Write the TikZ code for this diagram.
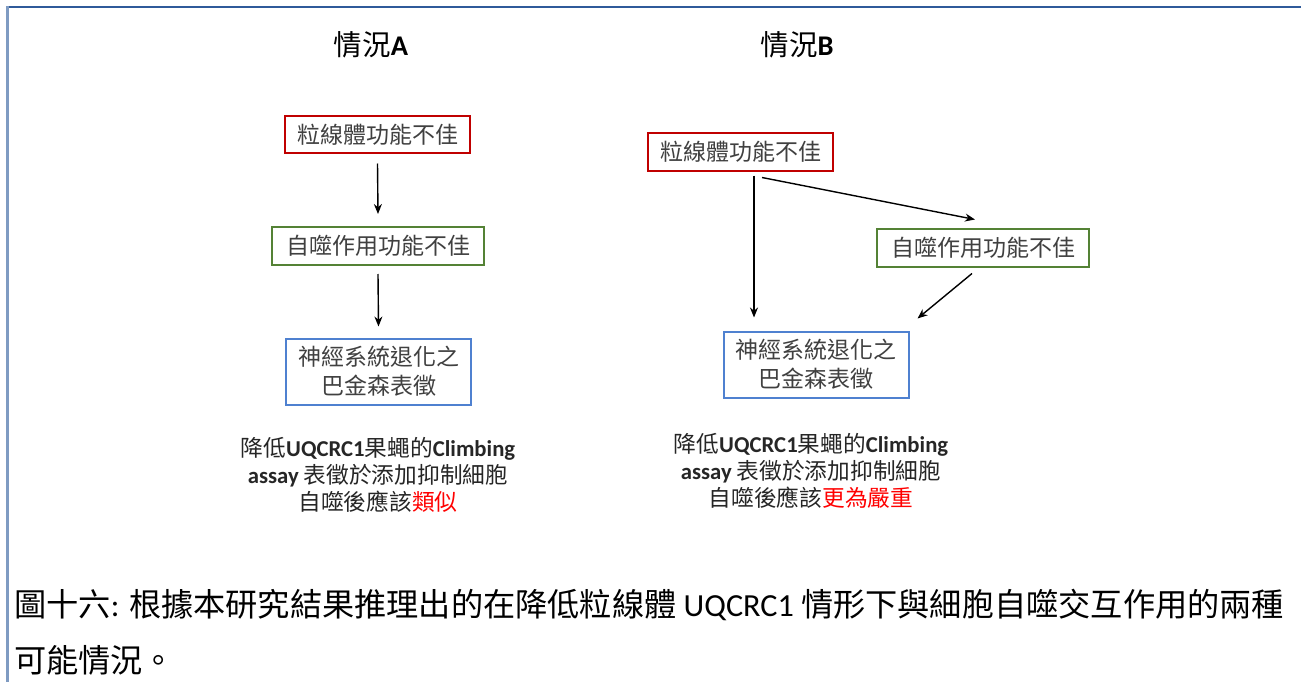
\documentclass[tikz,border=0pt]{standalone}
\usepackage{fontspec}
\setmainfont{Noto Sans CJK TC}
\newfontfamily\lat{Carlito}
\usetikzlibrary{arrows.meta}
\definecolor{bred}{HTML}{C00000}
\definecolor{bgreen}{HTML}{548235}
\definecolor{bblue}{HTML}{4F81D0}
\definecolor{frametop}{HTML}{2F5A9A}
\definecolor{frameleft}{HTML}{7F9BC2}
\definecolor{boxtext}{HTML}{404040}
\definecolor{hired}{HTML}{FF0000}
\tikzset{
  box/.style={draw, line width=2pt, inner sep=0pt, text=boxtext, align=center,
    font=\fontsize{23}{29}\selectfont},
  redbox/.style={box, draw=bred, minimum width=185pt, minimum height=37pt},
  greenbox/.style={box, draw=bgreen, minimum width=212pt, minimum height=38pt},
  bluebox/.style={box, draw=bblue, minimum width=185pt, minimum height=66pt},
  arr/.style={line width=1.4pt, -{Stealth[length=10pt,width=8pt]}},
  title/.style={font=\fontsize{28.5}{30}\selectfont, inner sep=0pt},
  note/.style={align=center, inner sep=0pt, text=black!85,
    font=\fontsize{22.7}{27}\selectfont},
  captext/.style={anchor=west, inner sep=0pt, font=\fontsize{32.2}{34}\selectfont}
}
\begin{document}
\begin{tikzpicture}[x=1pt,y=-1pt]
\useasboundingbox (0,0) rectangle (1301,682);
\fill[white] (0,0) rectangle (1301,682);
% frame
\draw[frametop, line width=2pt] (6,7) coordinate (ftl) -- (1301,7) coordinate (ftr);
\draw[frameleft, line width=3pt] (7,6) coordinate (flt) -- (7,682) coordinate (flb);

% titles
\node[title] (ta) at (371,45) {情況{\lat\bfseries A}};
\node[title] (tb) at (797,45) {情況{\lat\bfseries B}};

% case A
\node[redbox] (a1) at (377.5,135) {粒線體功能不佳};
\node[greenbox] (a2) at (378,246) {自噬作用功能不佳};
\node[bluebox] (a3) at (378.5,371.5) {神經系統退化之\\巴金森表徵};
\draw[arr] ([yshift=-9pt]a1.south) -- ([yshift=12pt]a2.north);
\draw[arr] ([yshift=-8pt]a2.south) -- ([yshift=11pt]a3.north);

% case B
\node[redbox] (b1) at (740.5,152) {粒線體功能不佳};
\node[greenbox] (b2) at (983,247.5) {自噬作用功能不佳};
\node[bluebox] (b3) at (816,364.5) {神經系統退化之\\巴金森表徵};
\draw[arr] ([xshift=13.5pt,yshift=-4pt]b1.south) -- ([xshift=-62pt,yshift=13pt]b3.north);
\draw[arr] ([xshift=21.5pt,yshift=-6pt]b1.south) -- ([xshift=-8pt,yshift=8pt]b2.north);
\draw[arr] ([xshift=-11pt,yshift=-6pt]b2.south) -- ([xshift=8pt,yshift=12pt]b3.north east);

% notes
\node[note] (na) at (378,475) {降低{\lat\bfseries UQCRC1}果蠅的{\lat\bfseries Climbing}\\{\lat\bfseries assay} 表徵於添加抑制細胞\\自噬後應該{\color{hired}類似}};
\node[note] (nb) at (811,471) {降低{\lat\bfseries UQCRC1}果蠅的{\lat\bfseries Climbing}\\{\lat\bfseries assay} 表徵於添加抑制細胞\\自噬後應該{\color{hired}更為嚴重}};

% caption
\node[captext] (c1) at (14,605) {圖十六{\lat:} 根據本研究結果推理出的在降低粒線體{\lat\ UQCRC1 }情形下與細胞自噬交互作用的兩種};
\node[captext] (c2) at (14,660) {可能情況。};
\end{tikzpicture}
\end{document}
